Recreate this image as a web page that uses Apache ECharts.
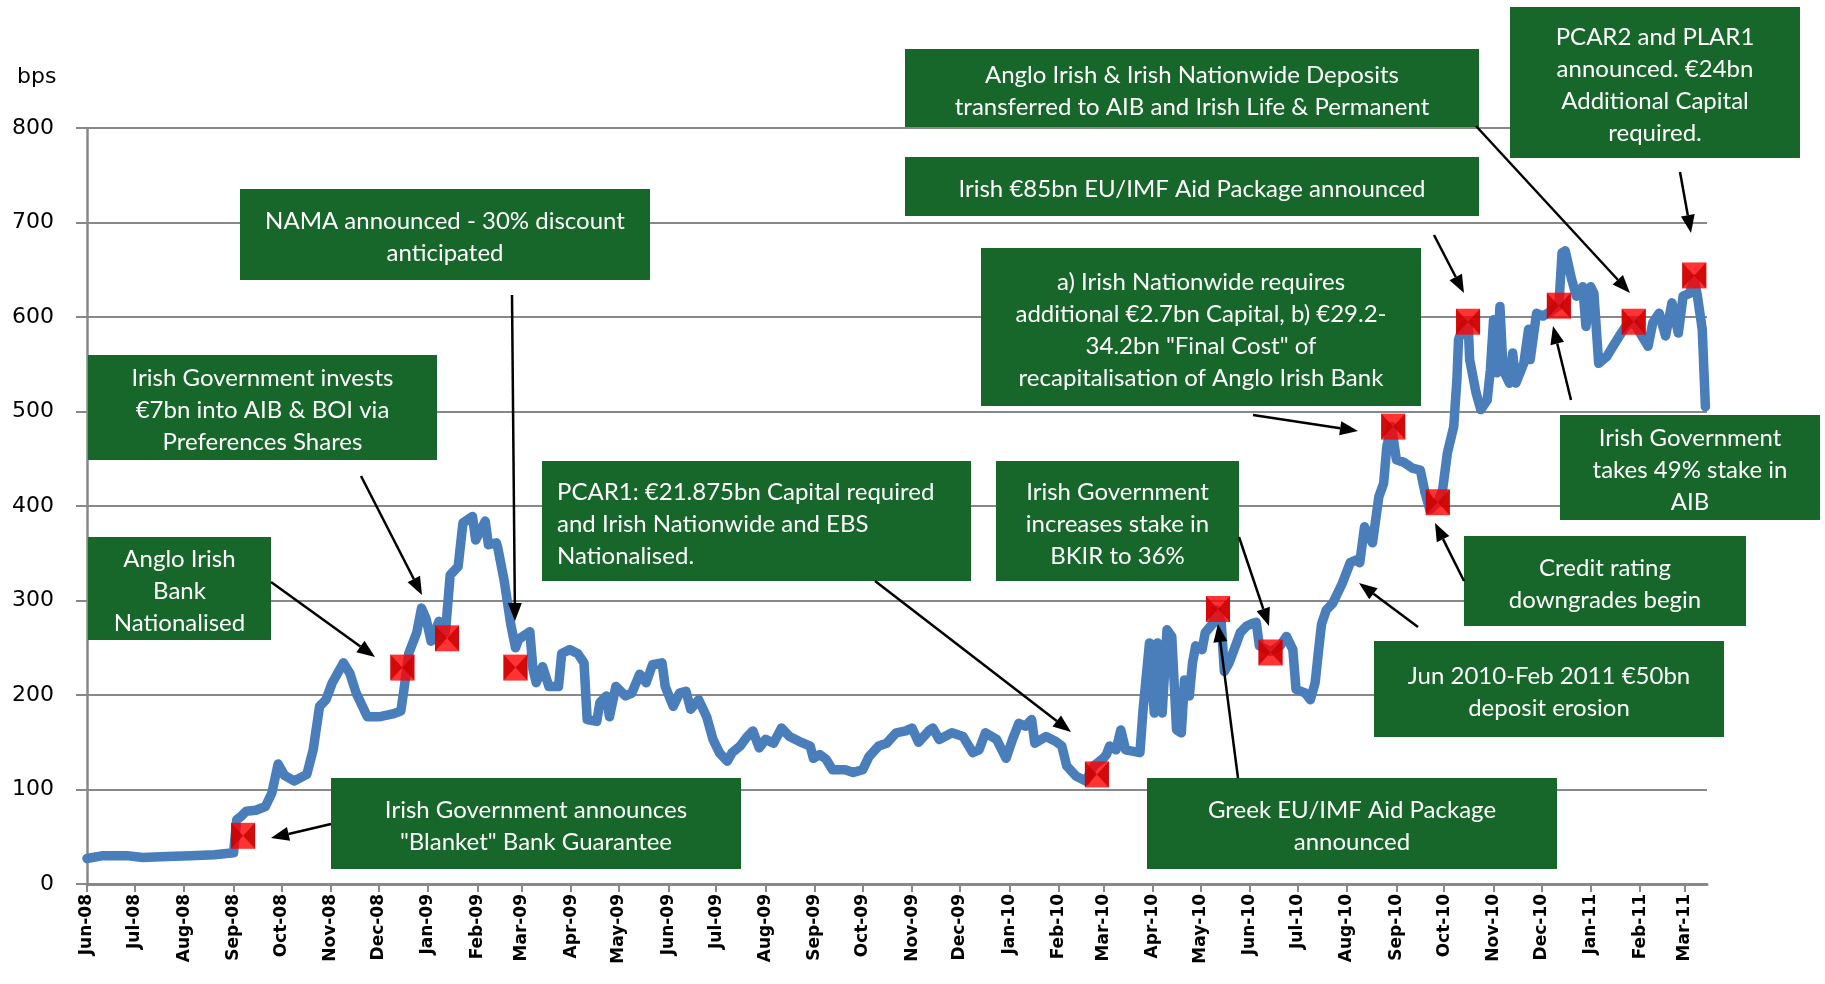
<!DOCTYPE html>
<html>
<head>
<meta charset="utf-8">
<title>Irish bank spreads 2008-2011</title>
<script src="https://cdn.jsdelivr.net/npm/echarts@6/dist/echarts.min.js"></script>
<style>
  html, body { margin: 0; padding: 0; background: #fff; }
  #main { width: 1825px; height: 984px; }
</style>
</head>
<body>
<div id="main"></div>
<script>
  // spread in bps
  var spreadDates = [
    '2008-06-01','2008-06-11','2008-06-26','2008-07-06','2008-07-21','2008-08-05','2008-08-20','2008-09-01','2008-09-03','2008-09-06',
    '2008-09-09','2008-09-15','2008-09-21','2008-09-25','2008-09-29','2008-10-03','2008-10-09','2008-10-17','2008-10-21','2008-10-25',
    '2008-10-29','2008-11-02','2008-11-09','2008-11-13','2008-11-17','2008-11-24','2008-12-02','2008-12-10','2008-12-15','2008-12-17',
    '2008-12-20','2008-12-25','2008-12-28','2008-12-31','2009-01-03','2009-01-08','2009-01-12','2009-01-15','2009-01-20','2009-01-23',
    '2009-01-29','2009-01-31','2009-02-06','2009-02-08','2009-02-13','2009-02-14','2009-02-18','2009-02-22','2009-02-25','2009-02-27',
    '2009-03-06','2009-03-08','2009-03-10','2009-03-14','2009-03-18','2009-03-24','2009-03-26','2009-03-31','2009-04-05','2009-04-09',
    '2009-04-11','2009-04-17','2009-04-19','2009-04-23','2009-04-25','2009-04-29','2009-05-05','2009-05-09','2009-05-14','2009-05-18',
    '2009-05-22','2009-05-28','2009-05-30','2009-06-04','2009-06-08','2009-06-12','2009-06-15','2009-06-20','2009-06-25','2009-06-29',
    '2009-07-03','2009-07-08','2009-07-11','2009-07-16','2009-07-20','2009-07-24','2009-07-28','2009-08-01','2009-08-06','2009-08-11',
    '2009-08-16','2009-08-22','2009-08-29','2009-08-31','2009-09-04','2009-09-08','2009-09-12','2009-09-20','2009-09-25','2009-10-01',
    '2009-10-05','2009-10-11','2009-10-16','2009-10-22','2009-10-28','2009-11-01','2009-11-05','2009-11-12','2009-11-14','2009-11-18',
    '2009-11-26','2009-12-03','2009-12-09','2009-12-13','2009-12-17','2009-12-24','2009-12-30','2010-01-03','2010-01-07','2010-01-11',
    '2010-01-15','2010-01-17','2010-01-24','2010-01-30','2010-02-03','2010-02-06','2010-02-12','2010-02-18','2010-02-23','2010-03-01',
    '2010-03-03','2010-03-05','2010-03-09','2010-03-12','2010-03-15','2010-03-24','2010-03-26','2010-03-30','2010-04-02','2010-04-04',
    '2010-04-07','2010-04-10','2010-04-13','2010-04-16','2010-04-19','2010-04-21','2010-04-24','2010-04-26','2010-04-28','2010-05-02',
    '2010-05-04','2010-05-09','2010-05-11','2010-05-14','2010-05-16','2010-05-19','2010-05-23','2010-05-26','2010-05-30','2010-06-03',
    '2010-06-05','2010-06-07','2010-06-14','2010-06-20','2010-06-24','2010-06-28','2010-06-30','2010-07-06','2010-07-09','2010-07-12',
    '2010-07-14','2010-07-16','2010-07-19','2010-07-23','2010-07-29','2010-08-03','2010-08-07','2010-08-09','2010-08-12','2010-08-17',
    '2010-08-21','2010-08-24','2010-08-26','2010-08-29','2010-09-01','2010-09-06','2010-09-11','2010-09-16','2010-09-19','2010-09-22',
    '2010-09-27','2010-09-30','2010-10-03','2010-10-07','2010-10-09','2010-10-10','2010-10-13','2010-10-16','2010-10-17','2010-10-21',
    '2010-10-24','2010-10-28','2010-10-30','2010-11-01','2010-11-03','2010-11-05','2010-11-07','2010-11-11','2010-11-13','2010-11-15',
    '2010-11-20','2010-11-23','2010-11-24','2010-11-28','2010-12-02','2010-12-06','2010-12-12','2010-12-14','2010-12-16','2010-12-20',
    '2010-12-23','2010-12-27','2010-12-29','2011-01-01','2011-01-03','2011-01-06','2011-01-11','2011-01-15','2011-01-19','2011-01-23',
    '2011-01-28','2011-02-01','2011-02-06','2011-02-09','2011-02-13','2011-02-17','2011-02-21','2011-02-25','2011-02-28','2011-03-04',
    '2011-03-07','2011-03-09','2011-03-12','2011-03-14'
  ];
  var spreadBps = [
    27, 30, 30, 28, 29, 30, 31, 33, 68, 72,
    77, 78, 82, 96, 127, 115, 109, 116, 142, 188,
    195, 213, 234, 223, 202, 177, 177, 180, 183, 206,
    244, 266, 292, 280, 257, 278, 266, 327, 336, 382,
    389, 364, 384, 359, 361, 355, 320, 275, 250, 259,
    267, 227, 213, 230, 209, 209, 244, 248, 244, 234,
    174, 172, 192, 199, 177, 209, 199, 202, 222, 213,
    232, 234, 209, 188, 202, 204, 185, 195, 177, 153,
    139, 130, 139, 146, 155, 162, 144, 153, 149, 165,
    156, 151, 146, 133, 137, 132, 121, 121, 118, 121,
    135, 146, 149, 160, 162, 165, 150, 163, 165, 153,
    160, 156, 139, 142, 160, 153, 133, 153, 170, 167,
    174, 149, 156, 151, 146, 125, 114, 109, 125, 133,
    137, 146, 142, 163, 142, 139, 185, 255, 181, 255,
    181, 269, 262, 163, 160, 216, 199, 234, 252, 248,
    266, 276, 290, 278, 225, 234, 252, 266, 273, 276,
    277, 252, 246, 252, 262, 248, 206, 202, 195, 213,
    245, 275, 290, 297, 318, 340, 343, 340, 378, 361,
    410, 424, 463, 484, 449, 446, 440, 438, 414, 396,
    404, 417, 456, 484, 534, 576, 590, 595, 555, 520,
    502, 512, 544, 597, 541, 611, 544, 530, 562, 530,
    551, 587, 555, 604, 601, 605, 612, 668, 670, 640,
    622, 632, 590, 632, 625, 551, 558, 569, 580, 590,
    595, 583, 569, 594, 604, 580, 615, 583, 622, 625,
    640, 622, 587, 505
  ];

  // red event markers
  var eventDates = ['2008-09-07','2008-12-16','2009-01-13','2009-02-25','2010-02-25','2010-05-12','2010-06-14',
                    '2010-08-30','2010-09-27','2010-10-16','2010-12-12','2011-01-28','2011-03-07'];
  var eventBps = [51, 229, 260, 229, 116, 291, 245, 484, 404, 595, 612, 595, 644];

  // month ticks along the bottom
  var monthTicks = [
    '2008-06-01','2008-07-01','2008-08-01','2008-09-01','2008-10-01','2008-11-01','2008-12-01',
    '2009-01-01','2009-02-01','2009-03-01','2009-04-01','2009-05-01','2009-06-01','2009-07-01',
    '2009-08-01','2009-09-01','2009-10-01','2009-11-01','2009-12-01','2010-01-01','2010-02-01',
    '2010-03-01','2010-04-01','2010-05-01','2010-06-01','2010-07-01','2010-08-01','2010-09-01',
    '2010-10-01','2010-11-01','2010-12-01','2011-01-01','2011-02-01','2011-03-01'
  ];
  var monthNames = ['Jan','Feb','Mar','Apr','May','Jun','Jul','Aug','Sep','Oct','Nov','Dec'];
  var axisStart = '2008-06-01';
  var axisEnd = '2011-03-15';

  var GREEN = '#17672B';

  // text boxes: x, y, w, h, text, align
  var notes = [
    [905, 49, 574, 78, 'Anglo Irish & Irish Nationwide Deposits\ntransferred to AIB and Irish Life & Permanent'],
    [1510, 7, 290, 151, 'PCAR2 and PLAR1\nannounced. €24bn\nAdditional Capital\nrequired.'],
    [905, 157, 574, 59, 'Irish €85bn EU/IMF Aid Package announced'],
    [240, 189, 410, 91, 'NAMA announced - 30% discount\nanticipated'],
    [981, 248, 440, 158, 'a) Irish Nationwide requires\nadditional €2.7bn Capital, b) €29.2-\n34.2bn "Final Cost" of\nrecapitalisation of Anglo Irish Bank'],
    [88, 355, 349, 105, 'Irish Government invests\n€7bn into AIB & BOI via\nPreferences Shares'],
    [542, 461, 429, 120, 'PCAR1: €21.875bn Capital required\nand Irish Nationwide and EBS\nNationalised.', 'left'],
    [996, 461, 243, 120, 'Irish Government\nincreases stake in\nBKIR to 36%'],
    [1560, 415, 260, 105, 'Irish Government\ntakes 49% stake in\nAIB'],
    [88, 537, 183, 103, 'Anglo Irish\nBank\nNationalised'],
    [1464, 536, 282, 90, 'Credit rating\ndowngrades begin'],
    [1374, 641, 350, 96, 'Jun 2010-Feb 2011 €50bn\ndeposit erosion'],
    [331, 778, 410, 91, 'Irish Government announces\n"Blanket" Bank Guarantee'],
    [1147, 778, 410, 91, 'Greek EU/IMF Aid Package\nannounced']
  ];

  // arrows: from x, y to tip x, y
  var arrows = [
    [271, 582, 375, 657],
    [361, 476, 422, 595],
    [512, 295, 515, 621],
    [331, 824, 271, 838],
    [875, 581, 1071, 732],
    [1239, 537, 1269, 626],
    [1238, 778, 1218, 624],
    [1253, 415, 1358, 431],
    [1418, 627, 1359, 583],
    [1464, 581, 1435, 523],
    [1434, 235, 1464, 293],
    [1476, 126, 1630, 293],
    [1680, 172, 1691, 233],
    [1571, 400, 1553, 326]
  ];

  function ts(d) { return echarts.time.parse(d).getTime(); }

  var spreadData = spreadDates.map(function (d, i) { return [ts(d), spreadBps[i]]; });
  var eventData = eventDates.map(function (d, i) { return [ts(d), eventBps[i]]; });
  var tickValues = monthTicks.map(ts);

  var graphics = [{
    type: 'text', left: 17, top: 66, z: 100,
    style: { text: 'bps', fill: '#000', font: '22px "DejaVu Sans"' }
  }];
  notes.forEach(function (n) {
    var left = n[5] === 'left';
    graphics.push({
      type: 'rect', z: 100,
      shape: { x: n[0], y: n[1], width: n[2], height: n[3] },
      style: { fill: GREEN }
    });
    graphics.push({
      type: 'text', z: 101,
      x: left ? n[0] + 15 : n[0] + n[2] / 2,
      y: n[1] + n[3] / 2 + 3,
      style: {
        text: n[4], fill: '#fff', font: '24px Lato', lineHeight: 32,
        align: left ? 'left' : 'center', verticalAlign: 'middle'
      }
    });
  });
  arrows.forEach(function (a) {
    var dx = a[2] - a[0], dy = a[3] - a[1];
    var len = Math.sqrt(dx * dx + dy * dy);
    var ux = dx / len, uy = dy / len;
    var hl = 18, hw = 7;
    var bx = a[2] - ux * hl, by = a[3] - uy * hl;
    graphics.push({
      type: 'line', z: 102,
      shape: { x1: a[0], y1: a[1], x2: bx, y2: by },
      style: { stroke: '#000', lineWidth: 2.5 }
    });
    graphics.push({
      type: 'polygon', z: 102,
      shape: { points: [[a[2], a[3]], [bx - uy * hw, by + ux * hw], [bx + uy * hw, by - ux * hw]] },
      style: { fill: '#000' }
    });
  });

  var option = {
    animation: false,
    backgroundColor: '#fff',
    grid: { left: 87, right: 118, top: 128, bottom: 100, containLabel: false, outerBoundsMode: 'none' },
    xAxis: {
      type: 'value',
      min: ts(axisStart),
      max: ts(axisEnd),
      scale: true,
      axisLine: { onZero: false, lineStyle: { color: '#888', width: 3 } },
      axisTick: { show: true, length: 8, customValues: tickValues, lineStyle: { color: '#888', width: 2 } },
      axisLabel: {
        customValues: tickValues,
        rotate: 90,
        margin: 10,
        color: '#000',
        fontFamily: 'DejaVu Sans',
        fontWeight: 'bold',
        fontSize: 17,
        formatter: function (v) {
          var d = new Date(v);
          return monthNames[d.getMonth()] + '-' + String(d.getFullYear()).slice(2);
        }
      },
      splitLine: { show: false }
    },
    yAxis: {
      type: 'value',
      min: 0,
      max: 800,
      interval: 100,
      axisLine: { show: true, onZero: false, lineStyle: { color: '#888', width: 2.5 } },
      axisTick: { show: true, length: 11, lineStyle: { color: '#888', width: 2 } },
      splitLine: { show: true, lineStyle: { color: '#888', width: 2 } },
      axisLabel: { color: '#000', fontFamily: 'DejaVu Sans', fontSize: 22, margin: 33 }
    },
    series: [
      {
        name: 'Spread',
        type: 'line',
        data: spreadData,
        symbol: 'none',
        lineStyle: { color: '#4A7EBB', width: 9.5, cap: 'round', join: 'round' },
        itemStyle: { color: '#4A7EBB' },
        z: 2
      },
      {
        name: 'Events',
        type: 'scatter',
        data: eventData,
        symbol: 'rect',
        symbolSize: [24, 26],
        itemStyle: { color: '#FF0000' },
        z: 3
      },
      {
        name: 'Events shade',
        type: 'scatter',
        data: eventData,
        symbol: 'path://M0,0L5,5L0,10ZM10,0L5,5L10,10Z',
        symbolSize: [24, 26],
        itemStyle: { color: '#C80000' },
        z: 4
      }
    ],
    graphic: graphics
  };

  var myChart = echarts.init(document.getElementById('main'));
  myChart.setOption(option);
</script>
</body>
</html>
